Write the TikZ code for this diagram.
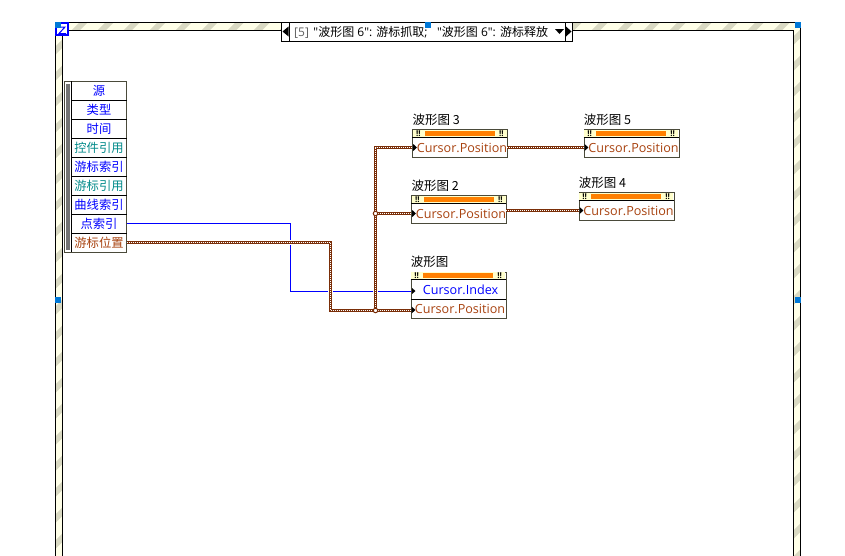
\documentclass[tikz,border=0pt]{standalone}
\usepackage{fontspec}
\setmainfont{Noto Sans CJK SC}
\newfontfamily\latinf{Open Sans}
\definecolor{wirebrown}{HTML}{7A2E08}
\definecolor{posbrown}{HTML}{A8420F}
\definecolor{framedark}{HTML}{4A4A3A}
\definecolor{bandy}{HTML}{FFFFE8}
\definecolor{bands}{HTML}{D9D9C2}
\definecolor{sel}{HTML}{0078D7}
\definecolor{orangebar}{HTML}{FF8000}
\definecolor{headery}{HTML}{FFFFCC}
\definecolor{tealref}{HTML}{008A8A}
\definecolor{labelgray}{HTML}{606060}
\tikzset{
  rowbox/.style={draw=none,minimum width=55,minimum height=19,inner sep=0,font=\fontsize{12.3}{13}\selectfont},
  labeltext/.style={anchor=base west,inner sep=0,font=\fontsize{12.5}{13}\selectfont},
  posrow/.style={draw=none,inner sep=0,text=posbrown,font=\latinf\fontsize{12.6}{13}\selectfont},
  handle/.style={fill=sel,draw=none,minimum size=6,inner sep=0},
  bigwire/.style={line join=miter,preaction={draw=white,solid,line width=5},preaction={draw=wirebrown,solid,line width=3.4},draw=white,line width=.8,dash pattern=on 1pt off 1pt},
  midwire/.style={preaction={draw=wirebrown,solid,line width=3},draw=white,line width=.7,dash pattern=on 1pt off 1pt},
  jdot/.style={circle,draw=wirebrown,fill=white,line width=1,minimum size=4.5,inner sep=0},
  ubody/.style={draw=framedark,line width=1,fill=white,inner sep=0},
}
\newcommand{\ublock}[6]{% name, x left, y top, y bottom, title, title baseline
  \node[ubody,minimum width=95,minimum height={#4-#3},anchor=north west] (#1) at (#2,#3) {};
  \fill[headery] (#2+.5,#3+.5) rectangle (#2+94.5,#3+8);
  \draw[black,line width=1] (#2,#3+8) -- (#2+95,#3+8);
  \fill[orangebar] (#2+12.7,#3+1.7) rectangle (#2+82.7,#3+6.4);
  \node[font=\latinf\bfseries\fontsize{8}{8}\selectfont,inner sep=0] at (#2+6,#3+4.2) {!!};
  \node[font=\latinf\bfseries\fontsize{8}{8}\selectfont,inner sep=0] at (#2+89,#3+4.2) {!!};
  \node[labeltext] (#1t) at (#2,#6) {#5};
}
\newcommand{\seltxt}[1]{{\latinf\fontsize{12}{13}\selectfont #1}}
\begin{document}
\begin{tikzpicture}[x=1pt,y=-1pt]
\useasboundingbox (0,0) rectangle (845,555);
\fill[white] (0,0) rectangle (845,555);
% striped frame
\begin{scope}
  \clip (0,0) rectangle (845,555);
  \begin{scope}[even odd rule]
    \clip (55.5,22.5) rectangle (800.5,570) (62.8,30) rectangle (793,570);
    \fill[bandy] (50,20) rectangle (805,570);
    \foreach \k in {0,26,...,1430} {
      \draw[bands,line width=6] (\k+2,0) -- (\k-598,600);
    }
  \end{scope}
  \draw[black,line width=1] (55.5,570) -- (55.5,22.5) -- (800.5,22.5) -- (800.5,570);
  \draw[black,line width=1] (62.8,570) -- (62.8,30) -- (793,30) -- (793,570);
\end{scope}
% structure-type glyph
\fill[white] (56,23) rectangle (68,35);
\draw[blue,line width=2] (56,23) rectangle (68,35);
\draw[blue,line width=1] (59,33.5) -- (66,33.5) -- (59,33.5) -- (65,27) -- (61,27);
\node[handle,anchor=north west] (h1) at (55,22) {};
\node[handle] (h2) at (58,300) {};
\node[handle] (h3) at (798,300) {};
\node[handle,anchor=north west] (h4) at (795,22) {};
% selector
\fill[white] (281,22.5) rectangle (573,41);
\draw[black,line width=1] (281.5,22.5) rectangle (572.5,41);
\draw[black,line width=1] (289.5,22.5) -- (289.5,41) (565,22.5) -- (565,41);
\fill[black] (282.5,31.5) -- (288.5,26.5) -- (288.5,36.5) -- cycle;
\fill[black] (571.5,31.5) -- (566,26.5) -- (566,36.5) -- cycle;
\fill[black] (555,29) -- (564,29) -- (559.5,34) -- cycle;
\node[anchor=base west,inner sep=0,font=\fontsize{12}{13}\selectfont] (seltext) at (294,36) {{\color{labelgray}\seltxt{[5]}}\hspace{4.5pt}\seltxt{"}波形图\seltxt{ 6": }游标抓取\seltxt{;}\hspace{9.5pt}\seltxt{"}波形图\seltxt{ 6": }游标释放};
\node[handle,anchor=north west] (h5) at (425,22) {};
% cluster
\fill[white] (64,81.3) rectangle (126.7,252.3);
\fill[black!55] (66,83.5) rectangle (70,250);
\node[rowbox,text=blue] (r1) at (99,90.7) {源};
\node[rowbox,text=blue] (r2) at (99,109.6) {类型};
\node[rowbox,text=blue] (r3) at (99,128.6) {时间};
\node[rowbox,text=tealref] (r4) at (99,147.8) {控件引用};
\node[rowbox,text=blue] (r5) at (99,166.8) {游标索引};
\node[rowbox,text=tealref] (r6) at (99,185.8) {游标引用};
\node[rowbox,text=blue] (r7) at (99,204.8) {曲线索引};
\node[rowbox,text=blue] (r8) at (99,223.8) {点索引};
\node[rowbox,text=posbrown] (r9) at (99,242.8) {游标位置};
\draw[framedark,line width=1] (64,81.3) rectangle (126.7,252.3);
\draw[black,line width=1] (71.5,81.3) -- (71.5,252.3);
\foreach \y in {100,119,138.3,157.3,176.3,195.3,214.3,233.3}
  \draw[black,line width=1] (71.5,\y) -- (126.7,\y);
% unbundle blocks
\ublock{wf3}{412.3}{129.3}{157.3}{波形图 3}{124}
\ublock{wf2}{411.3}{195.3}{223.3}{波形图 2}{190}
\ublock{wf5}{583.7}{129.3}{157.3}{波形图 5}{124}
\ublock{wf4}{578.7}{192.3}{220.3}{波形图 4}{187}
\ublock{wf}{410.7}{271.7}{318}{波形图}{266}
\draw[black,line width=1] (410.7,299.5) -- (505.7,299.5);
\node[posrow] (p3) at (462,147.5) {Cursor.Position};
\node[posrow] (p2) at (461,213.5) {Cursor.Position};
\node[posrow] (p5) at (633.5,147.5) {Cursor.Position};
\node[posrow] (p4) at (628.5,210.5) {Cursor.Position};
\node[posrow] (p1) at (460,309) {Cursor.Position};
\node[posrow,text=blue] (i1) at (460.5,289.7) {Cursor.Index};
% connector end points
\coordinate (in3) at (412.3,147.5);
\coordinate (in2) at (411.3,213.5);
\coordinate (in5) at (583.7,147.5);
\coordinate (in4) at (578.7,210.5);
\coordinate (in1) at (410.7,310.5);
\coordinate (ini) at (410.7,291.5);
\coordinate (out3) at (507.3,147.5);
\coordinate (out2) at (506.3,210.5);
\coordinate (j1) at (375.5,310.5);
\coordinate (j2) at (375.5,213.5);
\coordinate (o8) at (126.7,223.5);
\coordinate (o9) at (126.7,242.5);
% wires
\draw[blue,line width=1] (o8) -- (290.5,223.5) -- (290.5,291.5) -- (ini);
\draw[bigwire] (o9) -- (330.5,242.5) -- (330.5,310.5) -- (j1);
\draw[bigwire] (j1) -- (in1);
\draw[bigwire] (j1) -- (375.5,147.5) -- (in3);
\draw[midwire] (j2) -- (in2);
\draw[midwire] (out3) -- (in5);
\draw[midwire] (out2) -- (in4);
\node[jdot] (d1) at (j1) {};
\node[jdot] (d2) at (j2) {};
% terminal arrows
\foreach \n/\y in {412.8/147.5,411.8/213.5,584.2/147.5,579.2/210.5,411.2/310}
  \fill[black] (\n+.4,\y-3.5) -- (\n+4.2,\y) -- (\n+.4,\y+3.5) -- cycle;
\fill[black] (412,288) -- (415.5,291) -- (412,294) -- cycle;
\end{tikzpicture}
\end{document}
